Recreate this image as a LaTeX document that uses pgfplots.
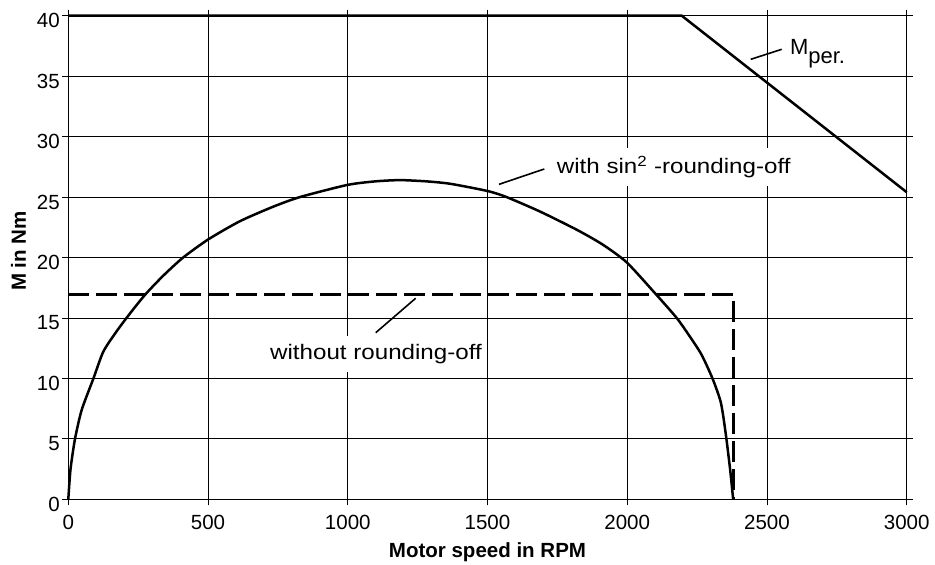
\documentclass[border=0pt]{standalone}
\usepackage{fontspec}
\setmainfont{Liberation Sans}
\newfontfamily\annfont[FakeStretch=1.15]{Liberation Sans}
\usepackage{pgfplots}
\pgfplotsset{compat=1.18}

\begin{document}
\begin{tikzpicture}
\begin{axis}[
  at={(0pt,0pt)}, anchor=south west,
  scale only axis, width=838.4pt, height=483.6pt,
  xmin=0, xmax=3000, ymin=0, ymax=40,
  xtick={0,500,...,3000}, ytick={0,5,...,40},
  grid=major, grid style={black, line width=0.8pt},
  axis line style={black, line width=0.9pt},
  tick style={black, line width=0.8pt},
  tick align=outside, major tick length=6pt,
  clip=false,
  /pgf/number format/assume math mode=true,
  /pgf/number format/1000 sep={},
  scaled ticks=false,
  tick label style={font=\fontsize{20.5}{24}\selectfont},
  yticklabel style={yshift=-5pt, xshift=1pt},
  xticklabel style={yshift=-6pt},
  xlabel={Motor speed in RPM}, ylabel={M in Nm},
  label style={font=\bfseries\fontsize{20.5}{24}\selectfont},
  xlabel style={at={(axis description cs:0.5,0)}, anchor=center, yshift=-52.7pt},
  ylabel style={at={(axis description cs:-0.0594,0.5135)}, anchor=center},
]
% M_per
\addplot[black, line width=2.5pt] coordinates {(0,40) (2195,40) (3000,25.4)};
% with sin^2 rounding-off
\addplot[black, line width=2.5pt, smooth, tension=0.4, line join=round] coordinates {
(0,0) (8,2.5) (24,5) (48,7.4) (90,10) (125,12.2) (170,13.8) (215,15.2) (274,16.9)
(340,18.5) (411,20) (501,21.5) (614,23.0) (733,24.2) (829,25) (998,26.0)
(1100,26.3) (1187,26.4) (1280,26.3) (1366,26.1) (1500,25.5) (1568,25) (1688,23.8)
(1819,22.3) (1910,21.1) (1998,19.6) (2105,16.9) (2177,15) (2220,13.6) (2265,12.0) (2305,10)
(2335,8.0) (2352,5.5) (2368,2.5) (2379,0)};
% without rounding-off
\addplot[black, line width=3pt, dash pattern=on 21pt off 7pt] coordinates {(0,16.9) (2382,16.9) (2382,0)};

\draw[black, line width=1.6pt] (axis cs:2441.8,36.39) -- (axis cs:2552.7,37.22);
\node[anchor=base west, inner sep=0pt, font=\fontsize{22}{26}\selectfont] at (axis cs:2582,36.83) {M\raisebox{-9.3pt}{per.}};

\node[anchor=base west, fill=white, inner xsep=0pt, inner ysep=8pt, font=\annfont\fontsize{21}{25}\selectfont] at (axis cs:1747.6,26.91) {with sin\textsuperscript{2} -rounding-off};
\draw[black, line width=1.6pt] (axis cs:1541.1,26.05) -- (axis cs:1703.2,27.32);

\node[anchor=base west, fill=white, inner xsep=0pt, inner ysep=8pt, font=\annfont\fontsize{21}{25}\selectfont] at (axis cs:721.7,11.58) {without rounding-off};
\draw[black, line width=1.6pt] (axis cs:1100,13.78) -- (axis cs:1243.1,16.63);
\end{axis}
\pgfresetboundingbox
\path[use as bounding box] (-68.3pt,-65.7pt) rectangle (866.7pt,499.3pt);
\end{tikzpicture}
\end{document}
